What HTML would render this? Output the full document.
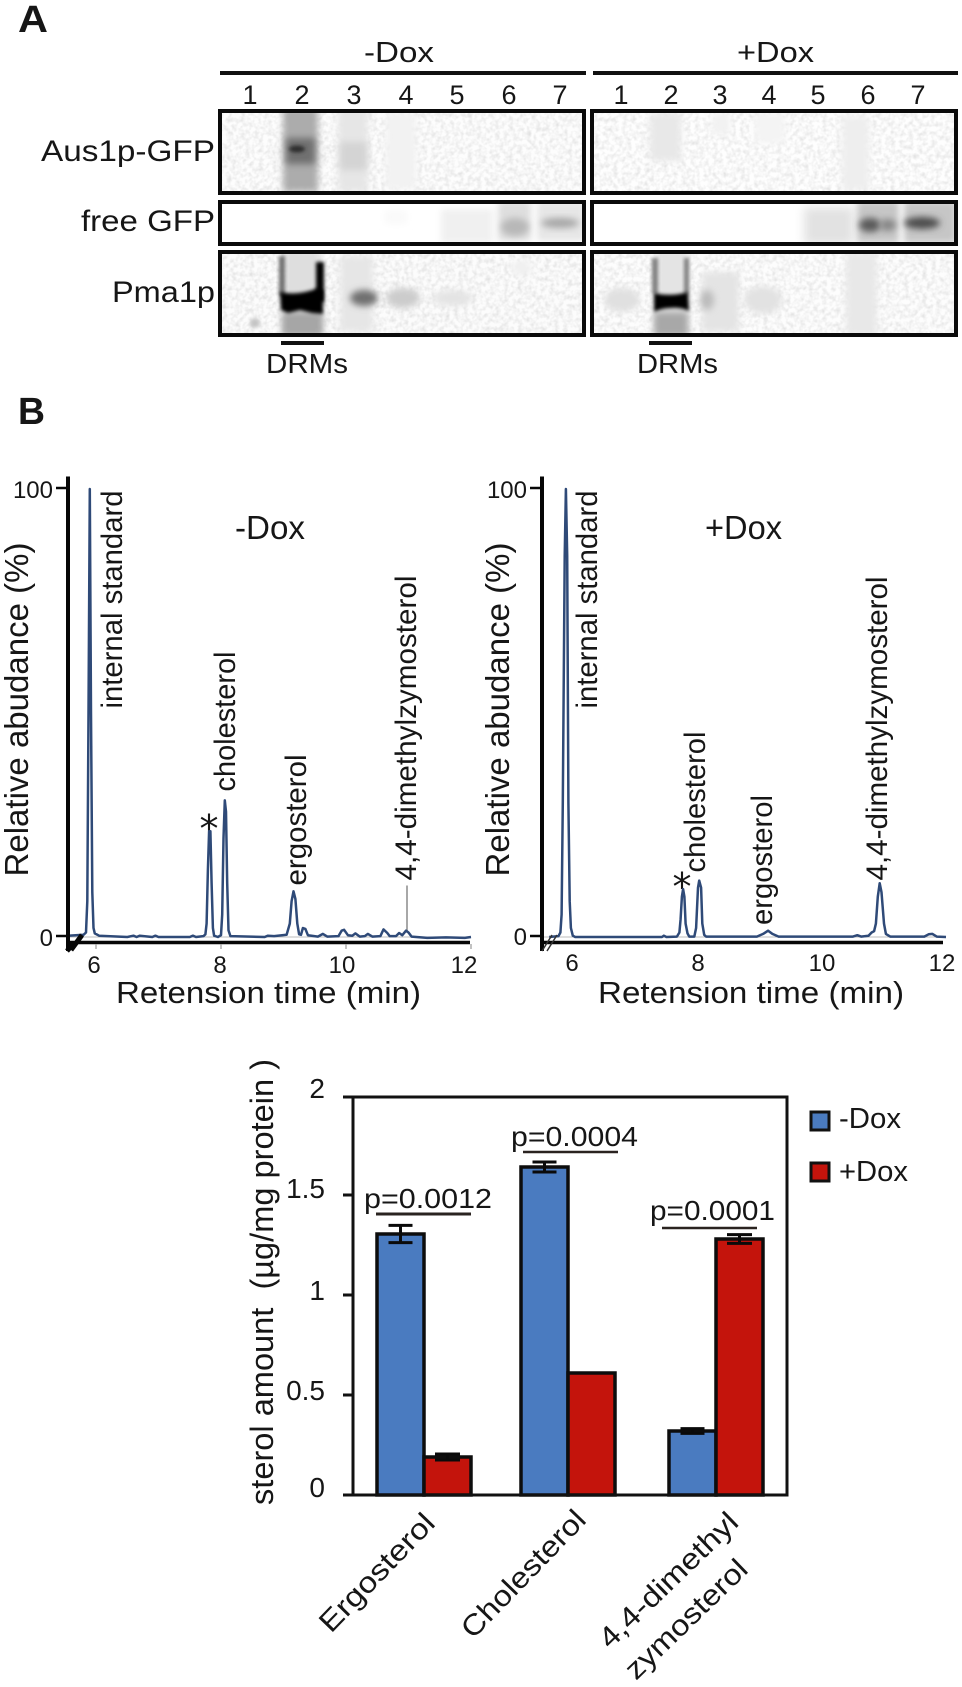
<!DOCTYPE html>
<html lang="en">
<head>
<meta charset="utf-8">
<title>Sterol analysis figure</title>
<style>
html,body{margin:0;padding:0;background:#fff;}
svg{display:block;}
text{font-family:"Liberation Sans",Arial,sans-serif;fill:#161616;}
</style>
</head>
<body>
<svg id="fig" xmlns="http://www.w3.org/2000/svg" width="962" height="1687" viewBox="0 0 962 1687">
<defs>
<filter id="b1" x="-50%" y="-50%" width="200%" height="200%"><feGaussianBlur stdDeviation="1.8"/></filter>
<filter id="b3" x="-50%" y="-50%" width="200%" height="200%"><feGaussianBlur stdDeviation="3.5"/></filter>
<filter id="b5" x="-50%" y="-50%" width="200%" height="200%"><feGaussianBlur stdDeviation="5"/></filter>
<filter id="noise" x="0" y="0" width="100%" height="100%"><feTurbulence type="fractalNoise" baseFrequency="0.22" numOctaves="2" seed="4"/><feColorMatrix type="matrix" values="0 0 0 0 0  0 0 0 0 0  0 0 0 0 0  0.2 0 0 0 -0.075"/></filter>
<clipPath id="c1"><rect x="222" y="113" width="360" height="78"/></clipPath>
<clipPath id="c2"><rect x="222" y="204" width="360" height="38"/></clipPath>
<clipPath id="c3"><rect x="222" y="254" width="360" height="79"/></clipPath>
<clipPath id="c4"><rect x="594" y="113" width="360" height="78"/></clipPath>
<clipPath id="c5"><rect x="594" y="204" width="360" height="38"/></clipPath>
<clipPath id="c6"><rect x="594" y="254" width="360" height="79"/></clipPath>
</defs>
<rect width="962" height="1687" fill="#fff"/>

<g>
<text x="18" y="32" font-size="38" font-weight="bold" textLength="30" lengthAdjust="spacingAndGlyphs">A</text>
<text x="364" y="62" font-size="29" textLength="70" lengthAdjust="spacingAndGlyphs">-Dox</text>
<text x="737" y="62" font-size="29" textLength="77" lengthAdjust="spacingAndGlyphs">+Dox</text>
<rect x="220" y="71" width="366" height="4" fill="#111"/>
<rect x="593" y="71" width="365" height="4" fill="#111"/>
<g font-size="27" text-anchor="middle">
<text x="250" y="104">1</text><text x="302" y="104">2</text><text x="354" y="104">3</text><text x="406" y="104">4</text><text x="457" y="104">5</text><text x="509" y="104">6</text><text x="560" y="104">7</text>
</g>
<g font-size="27" text-anchor="middle">
<text x="621" y="104">1</text><text x="671" y="104">2</text><text x="720" y="104">3</text><text x="769" y="104">4</text><text x="818" y="104">5</text><text x="868" y="104">6</text><text x="918" y="104">7</text>
</g>
<text x="41" y="161" font-size="30" textLength="174" lengthAdjust="spacingAndGlyphs">Aus1p-GFP</text>
<text x="81" y="231" font-size="30" textLength="134" lengthAdjust="spacingAndGlyphs">free GFP</text>
<text x="112" y="302" font-size="30" textLength="103" lengthAdjust="spacingAndGlyphs">Pma1p</text>

<g clip-path="url(#c1)">
<rect x="222" y="113" width="360" height="78" fill="#fdfdfd"/>
<rect x="222" y="113" width="360" height="78" filter="url(#noise)"/>
<rect x="283" y="108" width="35" height="84" fill="#acacac" filter="url(#b3)"/>
<rect x="286" y="138" width="29" height="26" fill="#707070" filter="url(#b3)"/>
<ellipse cx="297" cy="149" rx="8" ry="3.500" fill="#2e2e2e" filter="url(#b1)"/>
<rect x="338" y="108" width="30" height="84" fill="#e6e6e6" filter="url(#b3)"/>
<rect x="340" y="142" width="27" height="28" fill="#d4d4d4" filter="url(#b3)"/>
<rect x="386" y="113" width="30" height="76" fill="#f2f2f2" filter="url(#b3)"/>
</g>
<g clip-path="url(#c4)">
<rect x="594" y="113" width="360" height="78" fill="#fefefe"/>
<rect x="594" y="113" width="360" height="78" filter="url(#noise)"/>
<rect x="650" y="113" width="31" height="48" fill="#e8e8e8" filter="url(#b3)"/>
<rect x="842" y="116" width="27" height="74" fill="#eeeeee" filter="url(#b3)"/>
<rect x="712" y="113" width="18" height="22" fill="#f2f2f2" filter="url(#b3)"/>
<rect x="755" y="113" width="30" height="30" fill="#f4f4f4" filter="url(#b3)"/>
</g>
<g clip-path="url(#c2)">
<rect x="222" y="204" width="360" height="38" fill="#fff"/>
<rect x="385" y="210" width="22" height="14" fill="#f9f9f9" filter="url(#b3)"/>
<rect x="441" y="209" width="52" height="34" fill="#f0f0f0" filter="url(#b3)"/>
<rect x="498" y="201" width="33" height="40" fill="#dedede" filter="url(#b3)"/>
<ellipse cx="515" cy="227" rx="14" ry="9" fill="#b8b8b8" filter="url(#b3)"/>
<rect x="537" y="201" width="48" height="40" fill="#e6e6e6" filter="url(#b3)"/>
<ellipse cx="560" cy="223" rx="19" ry="5" fill="#a6a6a6" filter="url(#b3)"/>
</g>
<g clip-path="url(#c5)">
<rect x="594" y="204" width="360" height="38" fill="#fff"/>
<rect x="804" y="207" width="50" height="38" fill="#e2e2e2" filter="url(#b5)"/>
<rect x="857" y="201" width="42" height="42" fill="#c6c6c6" filter="url(#b3)"/>
<ellipse cx="870" cy="225" rx="11" ry="7" fill="#5a5a5a" filter="url(#b3)"/>
<ellipse cx="888" cy="225" rx="8" ry="6" fill="#868686" filter="url(#b3)"/>
<rect x="904" y="201" width="52" height="42" fill="#c6c6c6" filter="url(#b3)"/>
<ellipse cx="922" cy="223" rx="18" ry="6" fill="#4c4c4c" filter="url(#b3)"/>
</g>
<g clip-path="url(#c3)">
<rect x="222" y="254" width="360" height="79" fill="#fcfcfc"/>
<rect x="222" y="254" width="360" height="79" filter="url(#noise)"/>
<rect x="284" y="250" width="36" height="86" fill="#dedede" filter="url(#b3)"/>
<rect x="282" y="312" width="41" height="24" fill="#a6a6a6" filter="url(#b3)"/>
<rect x="279" y="256" width="6" height="40" fill="#707070" filter="url(#b1)"/>
<rect x="316" y="262" width="8" height="40" fill="#000" filter="url(#b1)"/>
<path d="M280 292 Q298 296 318 288 L323 290 L323 314 L312 313 L300 310 L288 313 L281 310 Z" fill="#000" filter="url(#b1)"/>
<rect x="340" y="256" width="33" height="76" fill="#e6e6e6" filter="url(#b3)"/>
<ellipse cx="364" cy="298" rx="14" ry="8" fill="#707070" filter="url(#b3)"/>
<ellipse cx="403" cy="298" rx="17" ry="10" fill="#cccccc" filter="url(#b3)"/>
<ellipse cx="453" cy="298" rx="20" ry="8" fill="#e4e4e4" filter="url(#b3)"/>
<ellipse cx="255" cy="323" rx="5" ry="5" fill="#c4c4c4" filter="url(#b1)"/>
<ellipse cx="522" cy="268" rx="10" ry="8" fill="#f0f0f0" filter="url(#b3)"/>
</g>
<g clip-path="url(#c6)">
<rect x="594" y="254" width="360" height="79" fill="#fdfdfd"/>
<rect x="594" y="254" width="360" height="79" filter="url(#noise)"/>
<ellipse cx="622" cy="300" rx="18" ry="12" fill="#e0e0e0" filter="url(#b3)"/>
<rect x="656" y="250" width="32" height="86" fill="#e4e4e4" filter="url(#b3)"/>
<rect x="654" y="312" width="34" height="24" fill="#a8a8a8" filter="url(#b3)"/>
<rect x="652" y="258" width="6" height="36" fill="#808080" filter="url(#b1)"/>
<rect x="684" y="258" width="5" height="36" fill="#808080" filter="url(#b1)"/>
<path d="M654 293 Q671 297 688 292 L689 311 Q680 307 671 308 Q662 308 654 312 Z" fill="#000" filter="url(#b1)"/>
<rect x="702" y="272" width="37" height="60" fill="#e4e4e4" filter="url(#b3)"/>
<ellipse cx="707" cy="300" rx="7" ry="10" fill="#bcbcbc" filter="url(#b3)"/>
<ellipse cx="763" cy="300" rx="19" ry="14" fill="#e2e2e2" filter="url(#b3)"/>
<rect x="846" y="252" width="31" height="84" fill="#e8e8e8" filter="url(#b3)"/>
</g>
<g fill="none" stroke="#0a0a0a" stroke-width="4">
<rect x="220" y="111" width="364" height="82"/>
<rect x="220" y="202" width="364" height="42"/>
<rect x="220" y="252" width="364" height="83"/>
<rect x="592" y="111" width="364" height="82"/>
<rect x="592" y="202" width="364" height="42"/>
<rect x="592" y="252" width="364" height="83"/>
</g>
<rect x="281" y="341" width="43" height="4" fill="#111"/>
<rect x="649" y="341" width="43" height="4" fill="#111"/>
<text x="266" y="373" font-size="28" textLength="82" lengthAdjust="spacingAndGlyphs">DRMs</text>
<text x="637" y="373" font-size="28" textLength="81" lengthAdjust="spacingAndGlyphs">DRMs</text>
</g>

<text x="18" y="424" font-size="38" font-weight="bold" textLength="27" lengthAdjust="spacingAndGlyphs">B</text>

<g id="chromA">
<text transform="translate(28,876.500) rotate(-90)" font-size="33" textLength="334" lengthAdjust="spacingAndGlyphs">Relative abudance (%)</text>
<text x="116" y="1003" font-size="31" textLength="305" lengthAdjust="spacingAndGlyphs">Retension time (min)</text>
<text x="235" y="539" font-size="33" textLength="70" lengthAdjust="spacingAndGlyphs">-Dox</text>
<text transform="translate(122,708.500) rotate(-90)" font-size="29.500" textLength="218" lengthAdjust="spacingAndGlyphs">internal standard</text>
<text transform="translate(235,791.500) rotate(-90)" font-size="29.500" textLength="140" lengthAdjust="spacingAndGlyphs">cholesterol</text>
<text transform="translate(306,885.500) rotate(-90)" font-size="29.500" textLength="131" lengthAdjust="spacingAndGlyphs">ergosterol</text>
<text transform="translate(416,880.500) rotate(-90)" font-size="29.500" textLength="305" lengthAdjust="spacingAndGlyphs">4,4-dimethylzymosterol</text>
<text x="209" y="842" font-size="38" text-anchor="middle" style="font-family:'DejaVu Sans',sans-serif">*</text>
<line x1="407" y1="885.500" x2="407" y2="932" stroke="#8a8a8a" stroke-width="1.500"/>
</g>
<g id="chromB">
<text transform="translate(509,876.500) rotate(-90)" font-size="33" textLength="334" lengthAdjust="spacingAndGlyphs">Relative abudance (%)</text>
<text x="598" y="1003" font-size="31" textLength="306" lengthAdjust="spacingAndGlyphs">Retension time (min)</text>
<text x="705" y="539" font-size="33" textLength="77" lengthAdjust="spacingAndGlyphs">+Dox</text>
<text transform="translate(597,708.500) rotate(-90)" font-size="29.500" textLength="218" lengthAdjust="spacingAndGlyphs">internal standard</text>
<text transform="translate(705,872.500) rotate(-90)" font-size="29.500" textLength="141" lengthAdjust="spacingAndGlyphs">cholesterol</text>
<text transform="translate(772,925) rotate(-90)" font-size="29.500" textLength="130" lengthAdjust="spacingAndGlyphs">ergosterol</text>
<text transform="translate(887,880.500) rotate(-90)" font-size="29.500" textLength="304" lengthAdjust="spacingAndGlyphs">4,4-dimethylzymosterol</text>
<text x="682" y="900" font-size="38" text-anchor="middle" style="font-family:'DejaVu Sans',sans-serif">*</text>
</g>

<g id="bars">
<text transform="translate(273,1505) rotate(-90)" font-size="32" textLength="446" lengthAdjust="spacingAndGlyphs">sterol amount&#160;&#160;(µg/mg protein )</text>
<text x="364" y="1208" font-size="28" textLength="128" lengthAdjust="spacingAndGlyphs">p=0.0012</text>
<text x="511" y="1146" font-size="28" textLength="127" lengthAdjust="spacingAndGlyphs">p=0.0004</text>
<text x="650" y="1220" font-size="28" textLength="125" lengthAdjust="spacingAndGlyphs">p=0.0001</text>
<line x1="376" x2="471" y1="1214" y2="1214" stroke="#2a2320" stroke-width="3"/>
<line x1="523" x2="618" y1="1152" y2="1152" stroke="#2a2320" stroke-width="2.500"/>
<line x1="662" x2="757" y1="1228" y2="1228" stroke="#2a2320" stroke-width="2.500"/>
<text transform="translate(331,1634) rotate(-46)" font-size="29" textLength="152" lengthAdjust="spacingAndGlyphs">Ergosterol</text>
<text transform="translate(473,1640) rotate(-46)" font-size="29" textLength="165" lengthAdjust="spacingAndGlyphs">Cholesterol</text>
<text transform="translate(610,1650) rotate(-44)" font-size="29" textLength="181" lengthAdjust="spacingAndGlyphs">4,4-dimethyl</text>
<text transform="translate(636,1681) rotate(-44)" font-size="29" textLength="158" lengthAdjust="spacingAndGlyphs">zymosterol</text>
<rect x="811" y="1112" width="18" height="18" fill="#4a7bc0" stroke="#111" stroke-width="3"/>
<text x="839" y="1128" font-size="29" textLength="62" lengthAdjust="spacingAndGlyphs">-Dox</text>
<rect x="811" y="1163" width="18" height="18" fill="#c4140c" stroke="#111" stroke-width="3"/>
<text x="839" y="1181" font-size="29" textLength="69" lengthAdjust="spacingAndGlyphs">+Dox</text>
</g>

<script>
// Chromatogram -Dox: retention time (min) and relative abundance (%)
var rtMinusDox = [5.55,5.8,5.84,5.86,5.88,5.90,5.92,5.94,5.96,5.98,6.05,6.5,6.6,6.65,6.7,6.9,6.95,7.0,7.5,7.55,7.6,7.72,7.75,7.77,7.79,7.81,7.83,7.85,7.87,7.89,7.95,8.0,8.02,8.04,8.06,8.08,8.10,8.12,8.15,8.7,8.75,8.85,9.05,9.10,9.13,9.16,9.19,9.22,9.25,9.28,9.31,9.35,9.39,9.55,9.63,9.7,9.88,9.93,9.97,10.03,10.1,10.15,10.22,10.3,10.35,10.42,10.55,10.6,10.66,10.7,10.8,10.85,10.9,10.96,11.0,11.05,11.3,11.6,11.9,12.0];
var abMinusDox = [0.3,0.5,1,8,50,100,50,10,2,0.8,0.3,0,0.3,0,0.3,0,0.3,0,0,0.3,0,0.2,0.6,3,15,23.6,23.6,12,2,0.3,0,0.4,5,22,30.5,28,12,1.5,0.2,0,0.3,0.2,0.5,3,8,10.2,8.5,3,0.6,0.5,2,1.8,0.4,0.1,0.7,0.1,0.2,1.4,1.6,0.4,0.3,0.8,0.1,0.2,0.7,0.1,0.2,1.7,0.9,0.2,0.2,0.9,0.4,1.4,1,0.1,-0.2,-0.1,-0.2,0];
// Chromatogram +Dox
var rtPlusDox = [5.6,5.75,5.78,5.80,5.82,5.85,5.87,5.89,5.91,5.93,5.95,5.98,6.02,7.42,7.45,7.49,7.66,7.70,7.72,7.74,7.76,7.78,7.80,7.83,7.86,7.94,7.97,8.0,8.02,8.05,8.07,8.1,8.13,8.95,9.05,9.13,9.2,9.3,10.5,10.57,10.63,10.75,10.8,10.84,10.87,10.9,10.93,10.96,11.0,11.03,11.1,11.65,11.72,11.78,11.85,12.0];
var abPlusDox = [0,0.2,1,5,30,85,100,85,30,8,2,0.3,0,0,0.3,0,0.1,1,4,9,10.7,9,3,0.8,0.1,0.1,2,11,12.6,11,3,0.5,0.1,0.1,0.7,1.4,0.7,0.1,0.1,0.4,0.1,0.3,1,1.3,3,9,12,10,3,0.7,0.1,0.1,0.6,0.7,0.1,0];
// Chromatogram axes
var chromXTicks = [6,8,10,12];
var chromYTicks = [0,100];
// Bar chart
var barCategories = ['Ergosterol','Cholesterol','4,4-dimethyl zymosterol'];
var barMinusDox = [1.305,1.64,0.32];
var barPlusDox = [0.19,0.61,1.28];
var errMinusDox = [0.043,0.025,0.012];
var errPlusDox = [0.015,0,0.022];
var barYTicks = [0,0.5,1,1.5,2];

var NS = 'http://www.w3.org/2000/svg';
function mk(tag, attrs, parent, txt) {
  var el = document.createElementNS(NS, tag);
  for (var k in attrs) { el.setAttribute(k, attrs[k]); }
  if (txt !== undefined) { el.textContent = txt; }
  parent.appendChild(el);
  return el;
}

// Axis functions
function xA(t) { return 96 + 62.5 * (t - 6); }
function xB(t) { return 574 + 62 * (t - 6); }
function yChrom(v) { return 937 - 4.48 * v; }
function yBar(v) { return 1495 - 200 * v; }

function drawChrom(group, xf, rts, abs, axisX, axisEndX, tickLabelShift, tickLabelY, zeroLabelY, hasXTickMarks) {
  var g = document.getElementById(group);
  var pts = [];
  for (var i = 0; i < rts.length; i++) { pts.push(xf(rts[i]).toFixed(1) + ',' + yChrom(abs[i]).toFixed(1)); }
  var guide = mk('line', {x1: axisX, x2: axisEndX, y1: yChrom(0), y2: yChrom(0), stroke: '#bdbdbd', 'stroke-width': 1}, g);
  
  
  var trace = mk('polyline', {points: pts.join(' '), fill: 'none', stroke: '#2f4a78', 'stroke-width': 2.5, 'stroke-linejoin': 'round'}, g);
  
  
  var ya = mk('line', {x1: axisX, x2: axisX, y1: 476.5, y2: 951, stroke: '#060606', 'stroke-width': 4}, g);
  
  
  var xa = mk('line', {x1: axisX, x2: axisEndX, y1: 942.5, y2: 942.5, stroke: '#060606', 'stroke-width': 3.5}, g);
  
  
  chromYTicks.forEach(function (v) {
    var yy = yChrom(v) - 1;
    var tk = mk('line', {x1: axisX - 12, x2: axisX, y1: yy, y2: yy, stroke: '#060606', 'stroke-width': 2.5}, g);
    
    
    var lb = mk('text', {x: axisX - 15, y: v === 100 ? 498 : zeroLabelY, 'font-size': 24, 'text-anchor': 'end'}, g, String(v));
    
    
  });
  chromXTicks.forEach(function (t, idx) {
    if (hasXTickMarks) {
      var tk = mk('line', {x1: xf(t), x2: xf(t), y1: 944, y2: 949, stroke: '#9a9a9a', 'stroke-width': 1.2}, g);
      
      
    }
    var lb = mk('text', {x: xf(t) + tickLabelShift[idx], y: tickLabelY, 'font-size': 24, 'text-anchor': 'middle'}, g, String(t));
    
    
  });
}
drawChrom('chromA', xA, rtMinusDox, abMinusDox, 68, 470, [-2,-1,-4,-7], 973, 946, true);
drawChrom('chromB', xB, rtPlusDox, abPlusDox, 542, 943, [-2,0,0,-4], 971, 945, false);

// Axis break marks
var chromAGroup = document.getElementById('chromA');
var breakA = mk('path', {d: 'M67 951 L74 943 M71 950 L82 935', fill: 'none', stroke: '#060606', 'stroke-width': 5}, chromAGroup);


var chromBGroup = document.getElementById('chromB');
var breakB = mk('path', {d: 'M542 951 L552 935 M547 951 L557 935', fill: 'none', stroke: '#333', 'stroke-width': 1.5}, chromBGroup);



// Bar chart
var barsGroup = document.getElementById('bars');
var groupLeft = [377, 521, 669];
var barW = 47;
function errorBar(cx, value, err, capW) {
  if (!err) { return; }
  var top = yBar(value + err), bot = yBar(value - err);
  var stem = mk('line', {x1: cx, x2: cx, y1: top, y2: bot, stroke: '#0a0a0a', 'stroke-width': 3}, barsGroup);
  
  
  var cap1 = mk('line', {x1: cx - capW / 2, x2: cx + capW / 2, y1: top, y2: top, stroke: '#0a0a0a', 'stroke-width': 3}, barsGroup);
  
  
  var cap2 = mk('line', {x1: cx - capW / 2, x2: cx + capW / 2, y1: bot, y2: bot, stroke: '#0a0a0a', 'stroke-width': 3}, barsGroup);
  
  
}
barCategories.forEach(function (c, i) {
  var x0 = groupLeft[i];
  var b1 = mk('rect', {x: x0, y: yBar(barMinusDox[i]), width: barW, height: yBar(0) - yBar(barMinusDox[i]), fill: '#4a7bc0', stroke: '#0d0d0d', 'stroke-width': 3.5}, barsGroup);
  
  
  var b2 = mk('rect', {x: x0 + barW, y: yBar(barPlusDox[i]), width: barW, height: yBar(0) - yBar(barPlusDox[i]), fill: '#c4140c', stroke: '#0d0d0d', 'stroke-width': 3.5}, barsGroup);
  
  
  errorBar(x0 + barW / 2, barMinusDox[i], errMinusDox[i], 24);
  errorBar(x0 + barW * 1.5, barPlusDox[i], errPlusDox[i], 25);
});
var frame = mk('path', {d: 'M353 1495 L353 1097 L787 1097 L787 1495 Z', fill: 'none', stroke: '#111', 'stroke-width': 3}, barsGroup);


barYTicks.forEach(function (v, i) {
  var tickY = Math.max(yBar(v), 1097);
  var tk = mk('line', {x1: 343, x2: 353, y1: tickY, y2: tickY, stroke: '#111', 'stroke-width': 3}, barsGroup);
  
  
  var lb = mk('text', {x: 325, y: yBar(v) + (i === 0 ? 2 : i === 1 || i === 2 ? 5 : 3), 'font-size': 28, 'text-anchor': 'end'}, barsGroup, String(v));
  
  
});
</script>
</svg>
</body>
</html>
